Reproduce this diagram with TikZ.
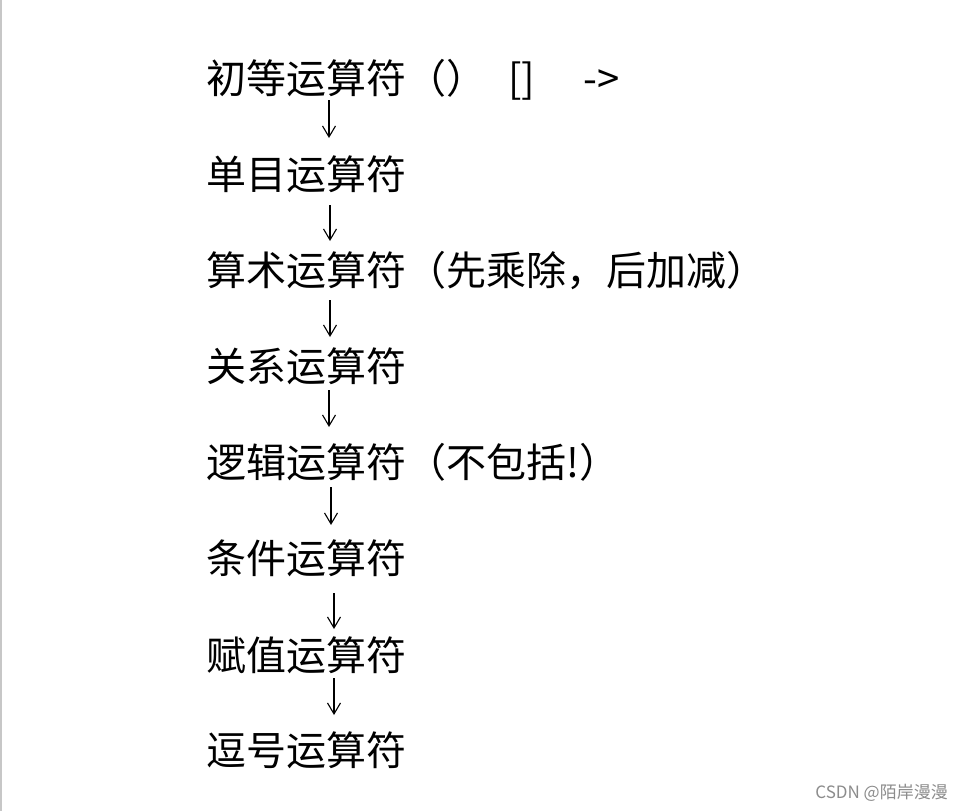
\documentclass[tikz,border=0pt]{standalone}
\usepackage{fontspec}
\setmainfont{Noto Sans CJK SC}
\usetikzlibrary{arrows.meta}
\begin{document}
\begin{tikzpicture}[x=1pt,y=-1pt,
  lbl/.style={anchor=base west,inner sep=0pt,font=\fontsize{40}{40}\selectfont},
  arr/.style={-{Straight Barb[length=11pt,width=13pt]},line width=1.1pt,black},
  wm/.style={anchor=east,inner sep=0pt,text=black!45,font=\fontsize{17}{17}\selectfont}]
\useasboundingbox[fill=white] (0,0) rectangle (963,811);
\fill[black!22] (0,0) rectangle (2,811);
\node[lbl] (l1) at (206,93) {初等运算符（）};
\node[lbl] (br) at (508,93) {[]};
\node[lbl] (ar) at (583,93) {->};
\node[lbl] (l2) at (206,189) {单目运算符};
\node[lbl] (l3) at (206,285) {算术运算符（先乘除，后加减）};
\node[lbl] (l4) at (206,381) {关系运算符};
\node[lbl] (l5) at (206,477) {逻辑运算符（不包括!）};
\node[lbl] (l6) at (206,573) {条件运算符};
\node[lbl] (l7) at (206,670) {赋值运算符};
\node[lbl] (l8) at (206,765) {逗号运算符};
\draw[arr] ([shift={(123,7)}]l1.base west) -- ([shift={(123,-51)}]l2.base west);
\draw[arr] ([shift={(124,16)}]l2.base west) -- ([shift={(124,-44)}]l3.base west);
\draw[arr] ([shift={(124,15)}]l3.base west) -- ([shift={(124,-44)}]l4.base west);
\draw[arr] ([shift={(123,9)}]l4.base west) -- ([shift={(123,-50)}]l5.base west);
\draw[arr] ([shift={(125,10)}]l5.base west) -- ([shift={(125,-48)}]l6.base west);
\draw[arr] ([shift={(128,20)}]l6.base west) -- ([shift={(128,-41)}]l7.base west);
\draw[arr] ([shift={(128,8)}]l7.base west) -- ([shift={(128,-50)}]l8.base west);
\node[wm] (w) at (948,793) {CSDN @陌岸漫漫};
\end{tikzpicture}
\end{document}
